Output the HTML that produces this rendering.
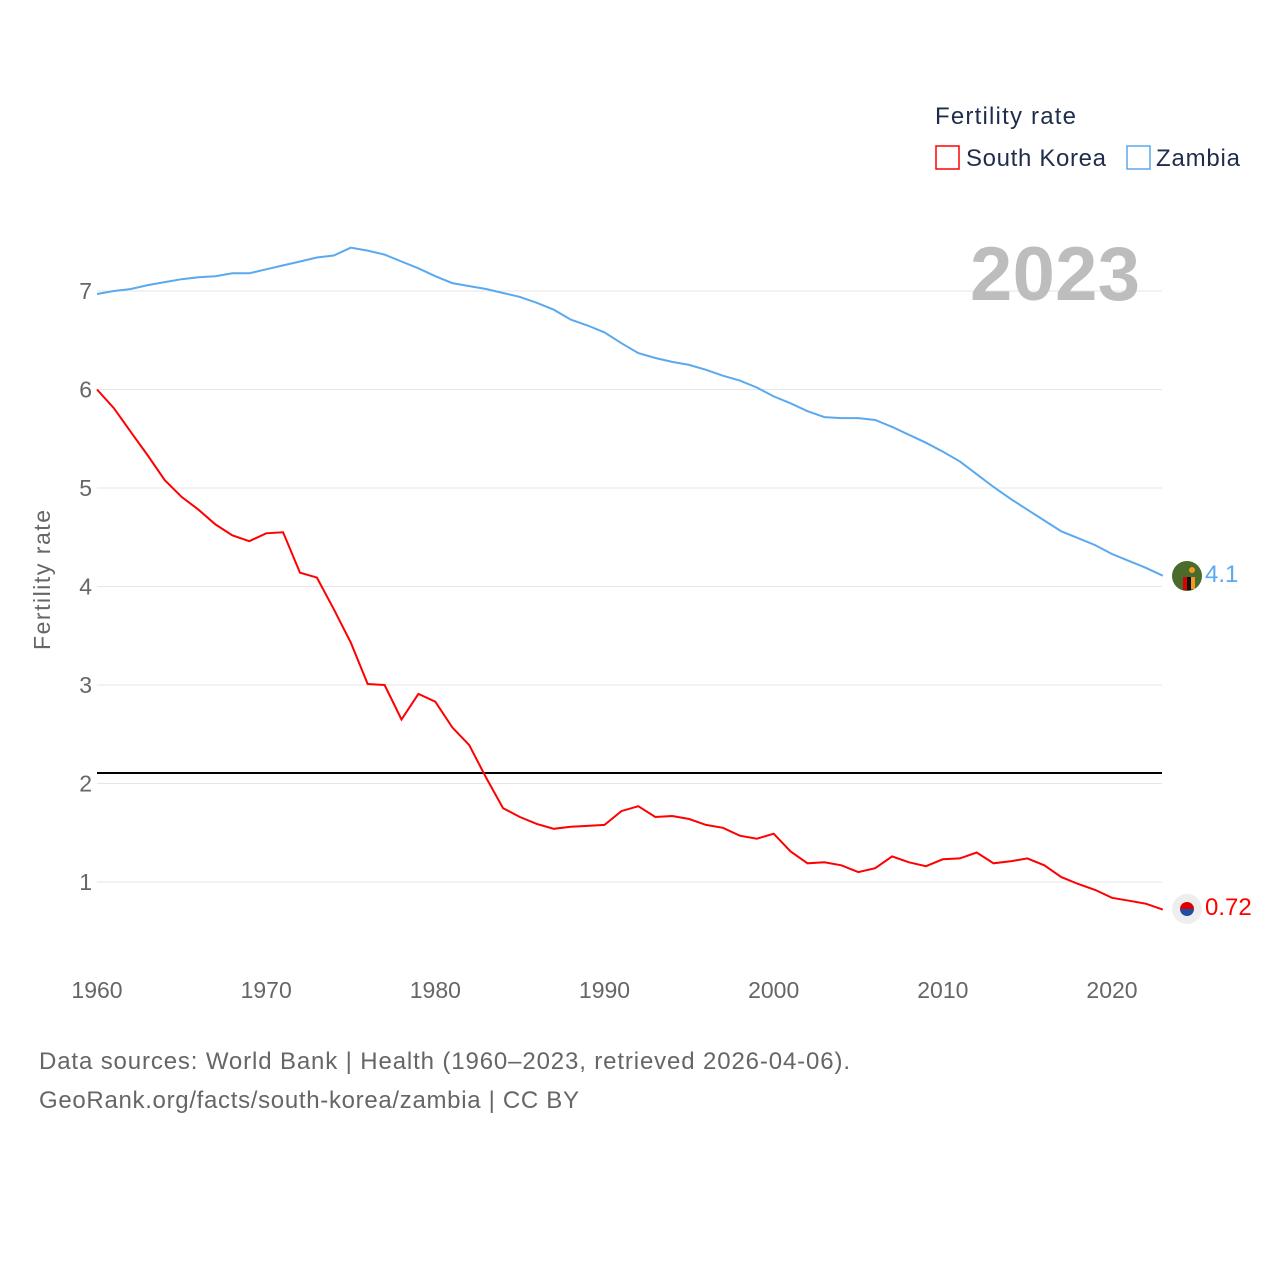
<!DOCTYPE html>
<html><head><meta charset="utf-8"><style>
body{margin:0;background:#fff;font-family:"Liberation Sans",sans-serif}
svg{display:block}
</style></head><body>
<svg id="chart" width="1280" height="1280" xmlns="http://www.w3.org/2000/svg">
<g id="grid"></g>
<g id="yticks"></g>
<g id="xticks"></g>
<text x="50" y="580" transform="rotate(-90 50 580)" text-anchor="middle" font-size="23" fill="#666" textLength="140">Fertility rate</text>
<text x="1140" y="300" text-anchor="end" font-size="76" font-weight="bold" fill="#bdbdbd" textLength="170">2023</text>
<line x1="97" x2="1162" y1="773" y2="773" stroke="#000" stroke-width="2"/>
<g id="series"></g>
<g>
<text x="935" y="124" font-size="24" fill="#1f2d4d" textLength="141">Fertility rate</text>
<rect x="936" y="146" width="23" height="23" fill="none" stroke="#f00" stroke-width="1.5"/>
<text x="966" y="166" font-size="24" fill="#1f2d4d" textLength="140">South Korea</text>
<rect x="1127" y="146" width="23" height="23" fill="none" stroke="#5aa9ef" stroke-width="1.5"/>
<text x="1156" y="166" font-size="24" fill="#1f2d4d" textLength="84">Zambia</text>
</g>
<g>
<circle cx="1187" cy="576" r="15" fill="#4a6b2c"/><rect x="1183" y="577" width="4" height="13" fill="#d00"/><rect x="1187" y="577" width="4" height="13" fill="#111"/><rect x="1191" y="577" width="4" height="12" fill="#f39a1e"/><circle cx="1192" cy="570" r="3" fill="#f39a1e"/>
</g>
<g>
<circle cx="1187" cy="909" r="15" fill="#eee"/><path d="M1180 909 a7 7 0 0 1 14 0z" fill="#d00"/><path d="M1180 909 a7 7 0 0 0 14 0z" fill="#1f4fa0"/>
</g>
<text id="lblZ" x="1205" y="582" font-size="24" fill="#5aa9ef">4.1</text>
<text id="lblK" x="1205" y="915" font-size="24" fill="#f00">0.72</text>
<text x="39" y="1069" font-size="24" fill="#666" textLength="811">Data sources: World Bank | Health (1960–2023, retrieved 2026-04-06).</text>
<text x="39" y="1108" font-size="24" fill="#666" textLength="540">GeoRank.org/facts/south-korea/zambia | CC BY</text>
</svg>
<script>
const years=[];for(let y=1960;y<=2023;y++)years.push(y);
const korea=[6.0,5.81,5.57,5.33,5.08,4.91,4.78,4.63,4.52,4.46,4.54,4.55,4.14,4.09,3.77,3.43,3.01,3.0,2.65,2.91,2.83,2.57,2.39,2.06,1.75,1.66,1.59,1.54,1.56,1.57,1.58,1.72,1.77,1.66,1.67,1.64,1.58,1.55,1.47,1.44,1.49,1.31,1.19,1.2,1.17,1.1,1.14,1.26,1.2,1.16,1.23,1.24,1.3,1.19,1.21,1.24,1.17,1.05,0.98,0.92,0.84,0.81,0.78,0.72];
const zambia=[6.97,7.0,7.02,7.06,7.09,7.12,7.14,7.15,7.18,7.18,7.22,7.26,7.3,7.34,7.36,7.44,7.41,7.37,7.3,7.23,7.15,7.08,7.05,7.02,6.98,6.94,6.88,6.81,6.71,6.65,6.58,6.47,6.37,6.32,6.28,6.25,6.2,6.14,6.09,6.02,5.93,5.86,5.78,5.72,5.71,5.71,5.69,5.62,5.54,5.46,5.37,5.27,5.14,5.01,4.89,4.78,4.67,4.56,4.49,4.42,4.33,4.26,4.19,4.11];
const yTicks=[1,2,3,4,5,6,7];
const xTicks=[1960,1970,1980,1990,2000,2010,2020];
const NS="http://www.w3.org/2000/svg";
const xs=y=>97+(y-1960)*(1015/60);
const ys=v=>882-(v-1)*98.5;
function mk(t,a,p){const e=document.createElementNS(NS,t);for(const k in a)e.setAttribute(k,a[k]);p.appendChild(e);return e;}
const grid=document.getElementById('grid'),yt=document.getElementById('yticks'),xt=document.getElementById('xticks'),ser=document.getElementById('series');
yTicks.forEach(v=>{
 const l=mk('line',{x1:97,x2:1162,y1:ys(v),y2:ys(v),stroke:'#e6e6e6','stroke-width':1},grid);
 
 
 const t=mk('text',{x:92,y:ys(v)+8,'text-anchor':'end','font-size':23,fill:'#666'},yt);t.textContent=v;
 
 
});
xTicks.forEach(y=>{
 const t=mk('text',{x:xs(y),y:998,'text-anchor':'middle','font-size':23,fill:'#666'},xt);t.textContent=y;
 
 
});
function line(d,c,name){
 const p=mk('path',{d:d.map((v,i)=>(i?'L':'M')+xs(years[i]).toFixed(1)+' '+ys(v).toFixed(1)).join(''),fill:'none',stroke:c,'stroke-width':2},ser);
 
 
}
line(zambia,'#5aa9ef','zambia-line');
line(korea,'#f00','south-korea-line');
</script>
</body></html>
